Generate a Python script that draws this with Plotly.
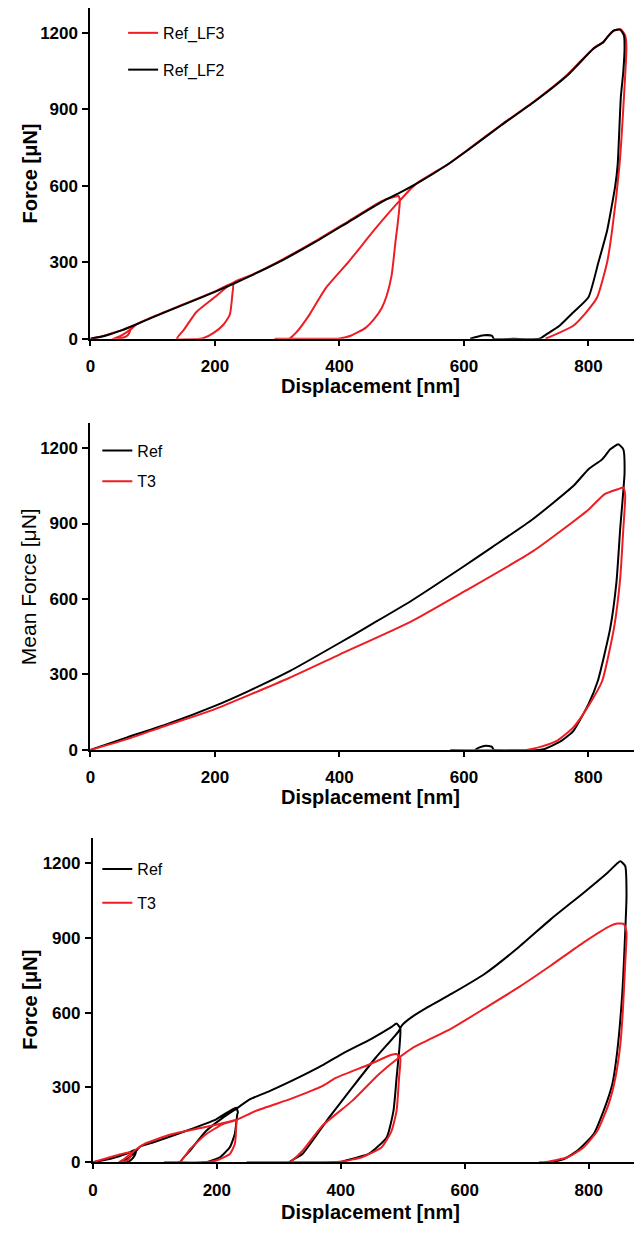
import plotly.graph_objects as go

# page geometry: the browser body adds an 8px margin, so the figure is 8px smaller
PAGE_W, PAGE_H = 642, 1236
OFF = 8
W, H = PAGE_W - OFF, PAGE_H - OFF

# ---------------- tick values ----------------
x_ticks = [0, 200, 400, 600, 800]
y_ticks = [0, 300, 600, 900, 1200]

# ---------------- panel 1 : Ref_LF3 (red) / Ref_LF2 (black) ----------------
p1_lf3_x = [0, 20, 40, 55, 65, 64, 60, 52, 42, 36, 46, 56, 66, 75, 100, 150, 200, 229,
            228, 224, 214, 198, 182, 176, 139, 150, 171, 198, 224, 235, 260, 309, 362, 415,
            468, 490, 495, 497, 494, 490, 484, 476, 468, 455, 442, 420, 400, 390, 297, 319,
            330, 352, 378, 415, 458, 495, 522, 575, 606, 660, 713, 766, 808, 824, 832, 842,
            852, 859, 861, 857, 850, 838, 830, 814, 795, 775, 750, 731]
p1_lf3_y = [0, 10, 26, 38, 48, 32, 14, 4, 0, 0, 8, 22, 40, 58, 86, 136, 186, 218,
            173, 95, 56, 23, 3, 0, 0, 35, 107, 160, 212, 228, 252, 312, 384, 462,
            540, 558, 560, 540, 460, 380, 251, 170, 121, 75, 43, 14, 1, 0, 0, 0,
            23, 95, 199, 303, 433, 537, 606, 686, 742, 840, 932, 1036, 1140, 1166, 1188, 1210,
            1214, 1190, 1144, 948, 686, 425, 300, 163, 100, 50, 20, 0]

p1_lf2_x = [0, 25, 50, 75, 100, 150, 200, 230, 260, 309, 362, 415, 468, 495, 522, 575, 606,
            660, 713, 766, 808, 824, 830, 840, 851, 857, 858, 856, 852, 847, 843, 830, 816,
            800, 774, 753, 734, 721, 680, 648, 645, 632, 618, 610]
p1_lf2_y = [0, 13, 33, 58, 84, 134, 184, 216, 250, 309, 381, 459, 537, 571, 606, 686, 740,
            838, 930, 1033, 1138, 1164, 1183, 1209, 1213, 1190, 1144, 1050, 948, 686, 600, 425, 300,
            163, 100, 50, 20, 0, 0, 0, 12, 14, 6, 0]

# ---------------- panel 2 : mean force, Ref (black) / T3 (red) ----------------
p2_ref_x = [0, 59, 124, 200, 254, 320, 400, 450, 515, 600, 646, 711, 776, 800, 822, 835, 848,
            856, 858, 851, 845, 835, 815, 800, 776, 757, 730, 720, 648, 645, 635, 625, 618]
p2_ref_y = [0, 50, 103, 175, 234, 313, 425, 497, 592, 730, 807, 918, 1050, 1116, 1155, 1195, 1215,
            1195, 1103, 879, 668, 484, 274, 182, 76, 37, 4, 0, 0, 12, 17, 10, 0]

p2_t3_x = [0, 59, 120, 200, 320, 400, 515, 600, 711, 800, 826, 848, 856, 859, 856, 851, 841,
           822, 800, 776, 750, 724, 700, 578]
p2_t3_y = [0, 43, 95, 162, 287, 379, 510, 629, 790, 955, 1017, 1037, 1043, 1011, 879, 682, 484,
           274, 175, 90, 37, 13, 0, 0]

# ---------------- panel 3 : Ref (black) / T3 (red) ----------------
p3_ref_x = [0, 30, 55, 70, 68, 62, 55, 48, 58, 68, 77, 98, 151, 199, 231, 234, 233, 229, 221,
            205, 183, 141, 157, 183, 210, 234, 253, 285, 338, 370, 400, 450, 482, 490, 496, 495,
            490, 485, 474, 445, 408, 397, 317, 338, 381, 418, 456, 493, 499, 515, 541, 579, 632,
            686, 739, 792, 830, 851, 859, 861, 858, 854, 846, 838, 824, 808, 782, 760, 739]
p3_ref_y = [0, 15, 35, 50, 30, 10, 0, 0, 18, 40, 64, 80, 126, 172, 219, 200, 192, 113, 60,
            20, 0, 0, 47, 126, 179, 219, 252, 285, 347, 388, 432, 496, 543, 556, 537, 471,
            338, 206, 99, 33, 7, 0, 0, 33, 179, 298, 418, 524, 550, 583, 623, 676, 755,
            860, 975, 1081, 1160, 1207, 1187, 1068, 869, 670, 444, 312, 206, 113, 47, 13, 0]

p3_t3_x = [0, 25, 45, 60, 62, 58, 50, 42, 50, 60, 70, 82, 124, 178, 221, 231, 231, 229, 221,
           199, 178, 116, 141, 157, 183, 210, 231, 263, 317, 338, 370, 392, 445, 482, 490, 496,
           494, 490, 482, 466, 434, 402, 376, 248, 317, 338, 370, 418, 461, 493, 515, 579, 632,
           686, 739, 792, 835, 846, 857, 861, 859, 855, 851, 843, 832, 814, 792, 766, 728, 720]
p3_t3_y = [0, 18, 32, 40, 30, 12, 2, 0, 12, 32, 52, 72, 110, 139, 163, 169, 126, 73, 33,
           7, 0, 0, 2, 53, 113, 153, 169, 206, 252, 272, 305, 338, 391, 431, 434, 418,
           338, 206, 126, 60, 20, 3, 0, 0, 0, 45, 146, 245, 352, 418, 457, 537, 617,
           700, 789, 882, 948, 957, 955, 922, 802, 603, 471, 338, 232, 126, 60, 20, 0, 0]

RED = "#ee1d23"
BLACK = "#000000"
FONT = "Liberation Sans, Arial, sans-serif"


def fx(p):
    # page pixel (from left) -> paper fraction
    return min(1.0, max(0.0, (p - OFF) / W))


def fy(p):
    # page pixel (from top) -> paper fraction
    return min(1.0, max(0.0, (H - (p - OFF)) / H))


fig = go.Figure()


def add(x, y, name, color, xa, ya, legend):
    fig.add_trace(go.Scatter(
        x=x, y=y, name=name, mode="lines",
        line=dict(color=color, width=2, shape="spline", smoothing=0.5),
        xaxis=xa, yaxis=ya, legend=legend, legendgroup=legend + name,
        hoverinfo="skip",
    ))


add(p1_lf3_x, p1_lf3_y, "Ref_LF3", RED, "x", "y", "legend")
add(p1_lf2_x, p1_lf2_y, "Ref_LF2", BLACK, "x", "y", "legend")
add(p2_ref_x, p2_ref_y, "Ref", BLACK, "x2", "y2", "legend2")
add(p2_t3_x, p2_t3_y, "T3", RED, "x2", "y2", "legend2")
add(p3_ref_x, p3_ref_y, "Ref", BLACK, "x3", "y3", "legend3")
add(p3_t3_x, p3_t3_y, "T3", RED, "x3", "y3", "legend3")

# panel pixel geometry on the page: (x origin, y origin, y top, y range max)
panels = [
    (86, 341.5, 8.0, 1298),
    (86, 756.0, 426.3, 1300),
    (88.5, 1171.7, 844.9, 1300),
]

tick_font = dict(family=FONT, size=17, color="black", weight="bold")
common_x = dict(range=[0, 886], tickvals=x_ticks, showline=True, linecolor="black", linewidth=2,
                ticks="outside", ticklen=5, tickwidth=2, tickcolor="black", showgrid=False,
                zeroline=False, tickfont=tick_font, ticklabelstandoff=6)
common_y = dict(tickvals=y_ticks, showline=True, linecolor="black", linewidth=2,
                ticks="outside", ticklen=6, tickwidth=2, tickcolor="black", showgrid=False,
                zeroline=False, tickfont=tick_font, ticklabelstandoff=1)

layout = dict(width=W, height=H, margin=dict(l=0, r=0, t=0, b=0),
              paper_bgcolor="white", plot_bgcolor="white", showlegend=True)

for i, (x0, y0, yt, ymax) in enumerate(panels, start=1):
    sfx = "" if i == 1 else str(i)
    layout["xaxis" + sfx] = dict(common_x, domain=[fx(x0), 1.0], anchor="y" + sfx)
    layout["yaxis" + sfx] = dict(common_y, range=[0, ymax], domain=[fy(y0), fy(yt)],
                                 anchor="x" + sfx)

legend_common = dict(font=dict(family=FONT, size=16, color="black"), bgcolor="rgba(0,0,0,0)",
                     xanchor="left", yanchor="top", itemwidth=30, traceorder="grouped")
layout["legend"] = dict(legend_common, x=fx(119), y=fy(16), tracegroupgap=13)
layout["legend2"] = dict(legend_common, x=fx(93), y=fy(437), tracegroupgap=7)
layout["legend3"] = dict(legend_common, x=fx(93), y=fy(859), tracegroupgap=10)

fig.update_layout(**layout)

# axis titles (page pixel centres)
titles = [
    ("Displacement [nm]", 368, 389, 0, True, 20),
    ("Displacement [nm]", 368, 803, 0, True, 20),
    ("Displacement [nm]", 368, 1222, 0, True, 20),
    ("Force [\u03bcN]", 25, 175, -90, True, 20),
    ("Mean Force [\u03bcN]", 23, 591, -90, False, 21),
    ("Force [\u03bcN]", 25, 1008, -90, True, 20),
]
for text, px, py, ang, bold, size in titles:
    fig.add_annotation(
        text=("<b>%s</b>" % text) if bold else text,
        x=fx(px), y=fy(py), xref="paper", yref="paper",
        xanchor="center", yanchor="middle", showarrow=False, textangle=ang,
        font=dict(family=FONT, size=size, color="black"),
    )

fig.write_html("out.html")
